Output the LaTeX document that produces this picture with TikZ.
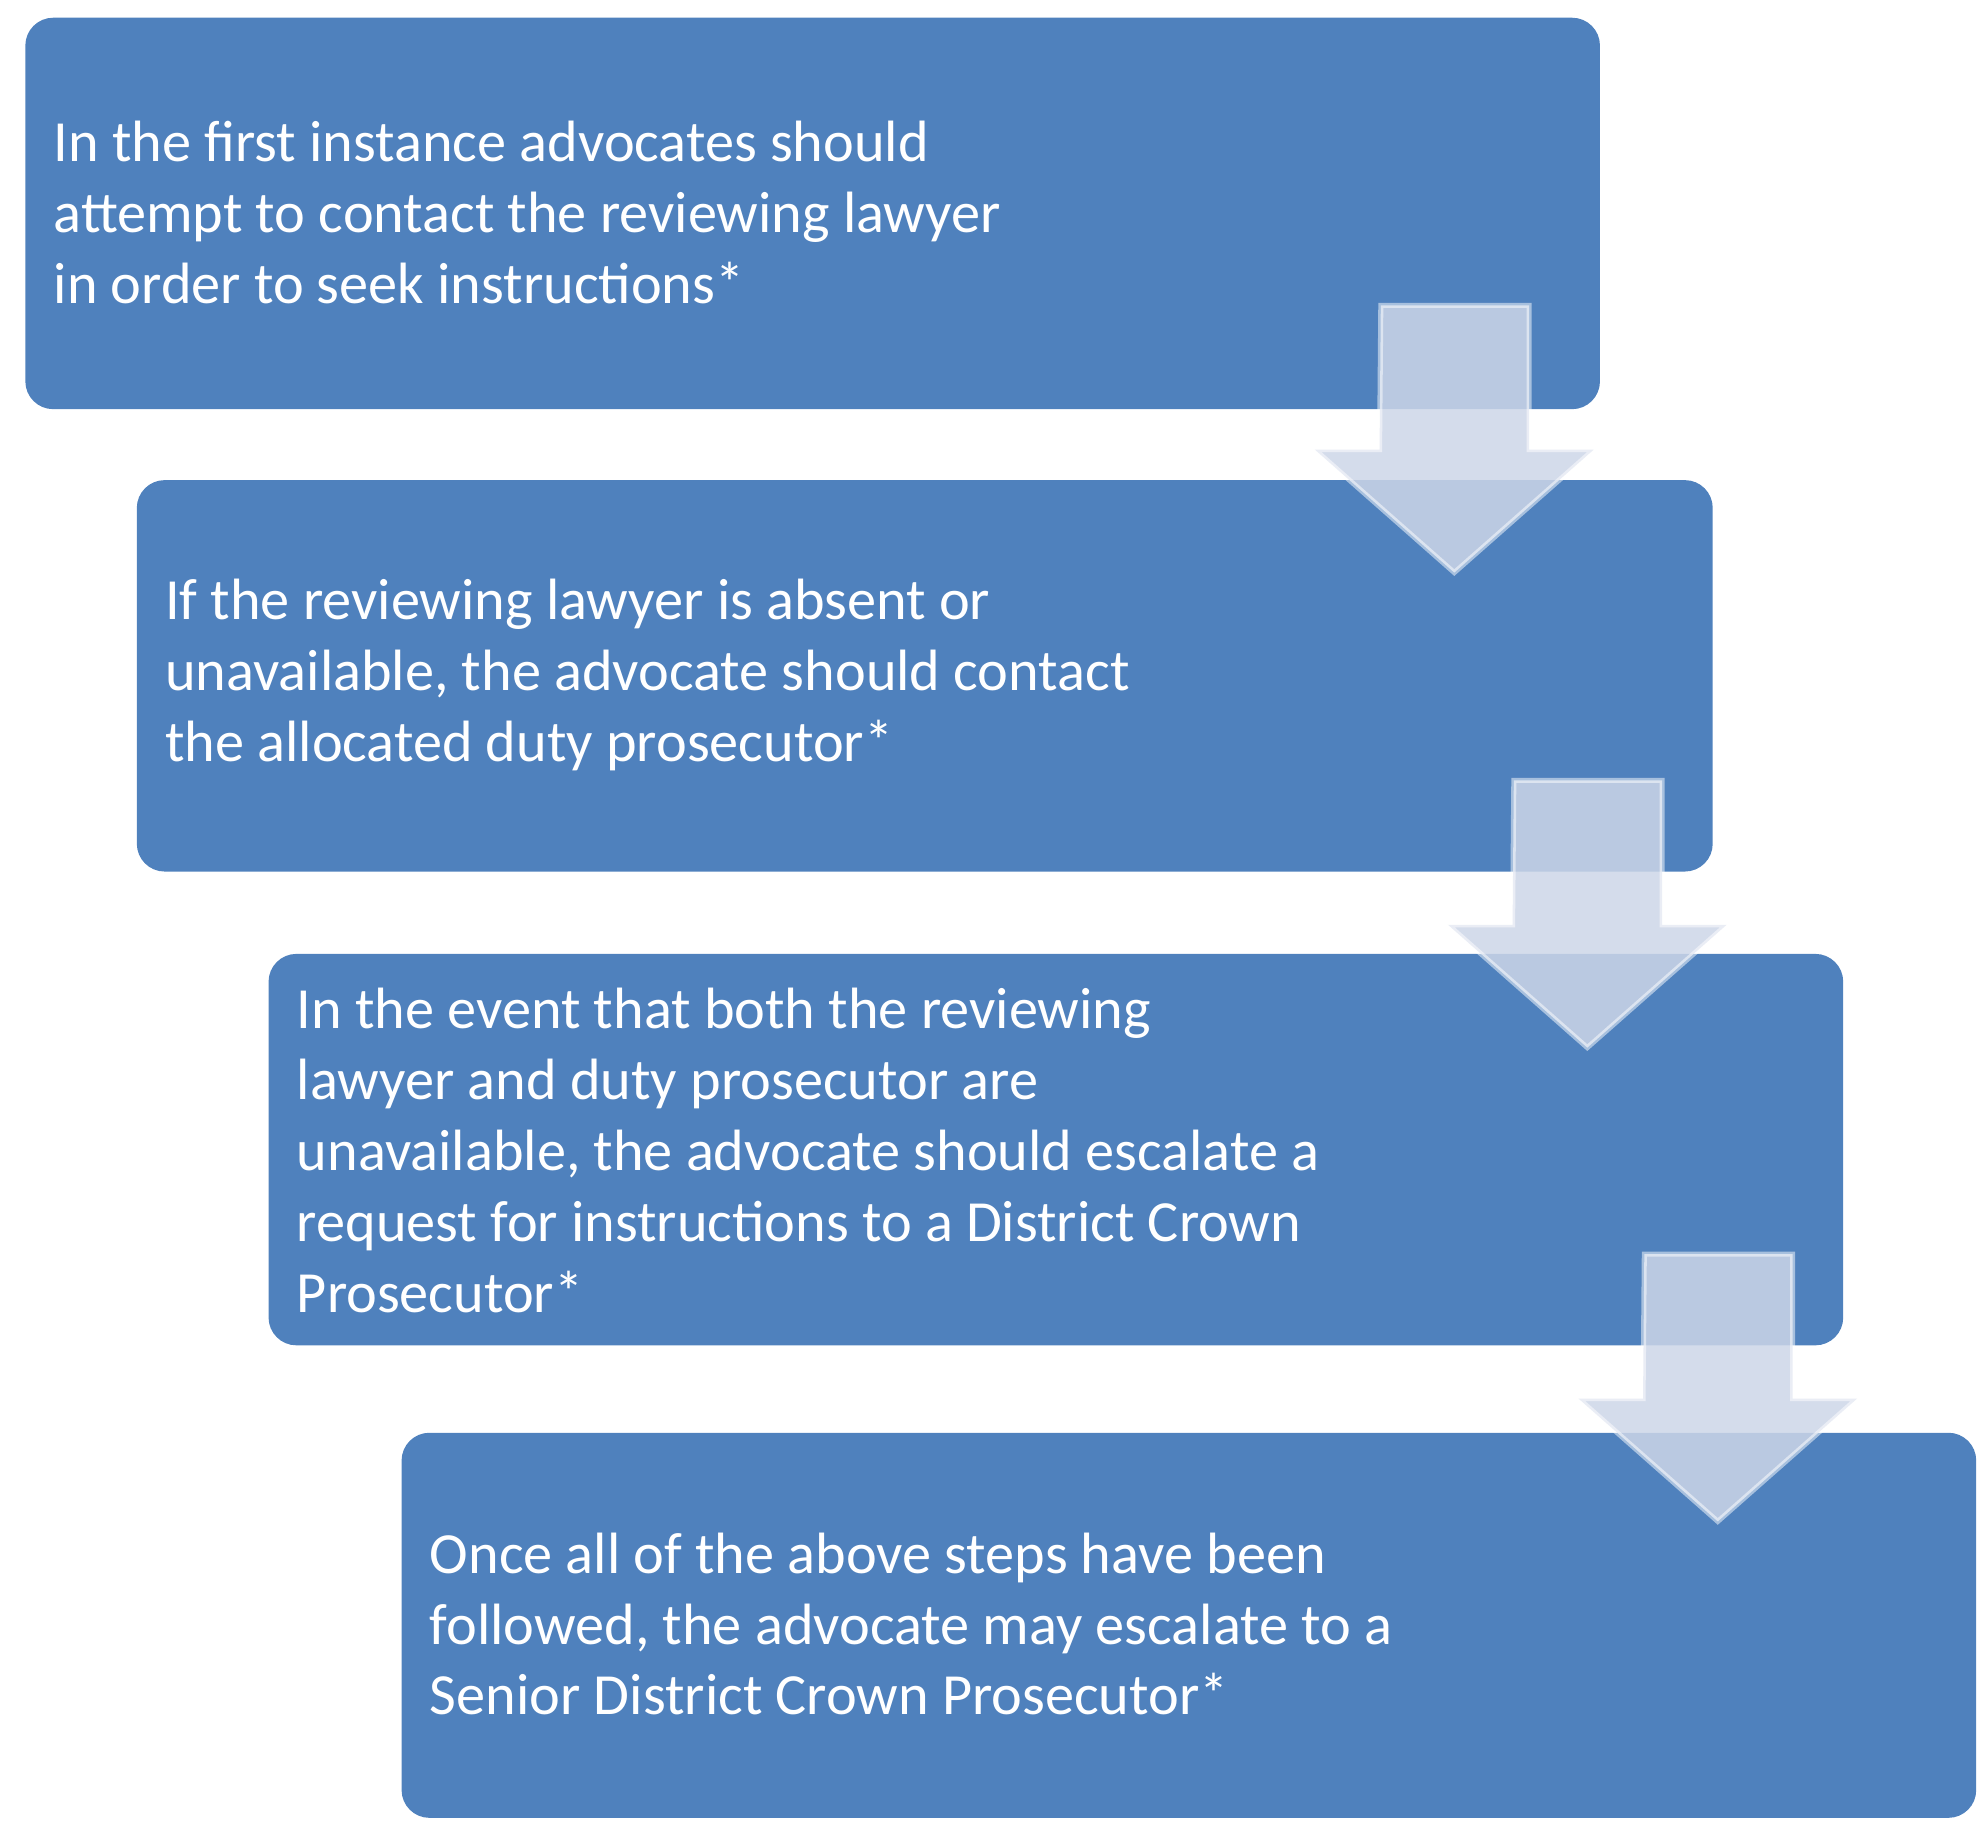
\documentclass[tikz,border=0pt]{standalone}
\usepackage{fontspec}
\setmainfont{Carlito}
\definecolor{stepblue}{RGB}{79,129,189}
\definecolor{arrowfill}{RGB}{205,214,232}
\tikzset{
  stepbox/.style={fill=stepblue, rounded corners=11pt},
  steptext/.style={anchor=west, align=left, text=white, inner sep=0pt,
    font=\fontsize{23}{28}\selectfont},
  downarrow/.style={fill=arrowfill, fill opacity=0.85, draw=white, draw opacity=0.5, line width=2pt}
}
% block arrow pointing down, top-left corner of shaft at #1
\newcommand{\downblock}[1]{%
  \path[downarrow] (#1) -- ++(117,0) -- ++(0,114) -- ++(51,0) -- ++(-110,97)
    -- ++(-110,-97) -- ++(51,0) -- cycle;}
\begin{document}
\begin{tikzpicture}[x=0.5pt,y=-0.5pt]
\useasboundingbox (0,0) rectangle (1563,1438);

%% boxes
\path[stepbox] (20,14) rectangle (1263,323);
\path[stepbox] (108,379) rectangle (1352,688);
\path[stepbox] (212,753) rectangle (1455,1062);
\path[stepbox] (317,1131) rectangle (1560,1435);

%% texts
\node[steptext] (first) at (42,168) {In the first instance advocates should\\attempt to contact the reviewing lawyer\\in order to seek instructions*};
\node[steptext] (second) at (130,533) {If the reviewing lawyer is absent or\\unavailable, the advocate should contact\\the allocated duty prosecutor*};
\node[steptext] (third) at (234,908) {In the event that both the reviewing\\lawyer and duty prosecutor are\\unavailable, the advocate should escalate a\\request for instructions to a District Crown\\Prosecutor*};
\node[steptext] (fourth) at (339,1282) {Once all of the above steps have been\\followed, the advocate may escalate to a\\Senior District Crown Prosecutor*};

%% arrows
\coordinate (a1) at (1090,241);
\coordinate (a2) at (1195,616);
\coordinate (a3) at (1298,990);
\downblock{a1}
\downblock{a2}
\downblock{a3}
\end{tikzpicture}
\end{document}
